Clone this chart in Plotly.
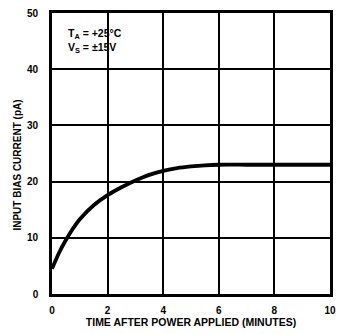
import plotly.graph_objects as go

# Input bias current vs. warm-up time
time_min = [0, 0.25, 0.5, 0.75, 1.0, 1.5, 2.0, 2.5, 3.0, 3.5, 4.0, 4.5, 5.0, 5.5, 6.0, 7.0, 8.0, 9.0, 10.0]
bias_pA = [4.5, 7.3, 9.6, 11.6, 13.3, 15.8, 17.6, 19.0, 20.2, 21.2, 21.9, 22.4, 22.7, 22.9, 23.0, 23.0, 23.0, 23.0, 23.0]

x_ticks = [0, 2, 4, 6, 8, 10]
y_ticks = [0, 10, 20, 30, 40, 50]

FONT = "Liberation Sans, Arial, sans-serif"

fig = go.Figure()
fig.add_trace(go.Scatter(
    x=time_min, y=bias_pA, mode="lines",
    line=dict(color="black", width=3.8, shape="spline", smoothing=0.6),
    hoverinfo="skip", showlegend=False,
))

# Test conditions
fig.add_annotation(
    x=0.5, y=47.8, xref="x", yref="y", xanchor="left", yanchor="top",
    text="<b>T<sub>A</sub> = +25°C<br>V<sub>S</sub> = ±15V</b>",
    showarrow=False, align="left",
    font=dict(family=FONT, size=10.5, color="black"),
)

# Y-axis title
fig.add_annotation(
    x=-0.123, y=0.46, xref="paper", yref="paper",
    xanchor="center", yanchor="middle", textangle=-90,
    text="<b>INPUT BIAS CURRENT (pA)</b>", showarrow=False,
    font=dict(family=FONT, size=10, color="black"),
)

axis_common = dict(
    showgrid=True, gridcolor="black", gridwidth=1.8,
    showline=True, linecolor="black", linewidth=2.6, mirror=True,
    zeroline=False, ticks="",
    tickfont=dict(family=FONT, size=10, color="black", weight="bold"),
)

fig.update_xaxes(
    range=[0, 10], tickvals=x_ticks, ticktext=[str(v) for v in x_ticks],
    title=dict(text="<b>TIME AFTER POWER APPLIED (MINUTES)</b>",
               font=dict(family=FONT, size=10.5, color="black"), standoff=4),
    ticklabelstandoff=5,
    **axis_common,
)
fig.update_yaxes(
    range=[0, 50], tickvals=y_ticks, ticktext=[str(v) for v in y_ticks],
    ticklabelstandoff=9,
    **axis_common,
)

fig.update_layout(
    width=342, height=334,
    margin=dict(l=52, r=6, t=13, b=40),
    plot_bgcolor="white", paper_bgcolor="white",
)

fig.write_html("out.html")
